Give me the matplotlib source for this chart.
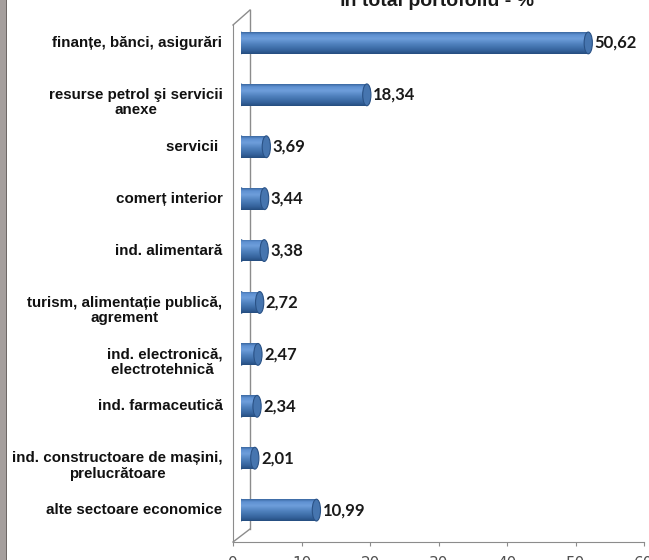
import matplotlib
matplotlib.use("Agg")
import matplotlib.pyplot as plt
import numpy as np
from matplotlib.patches import Ellipse, Rectangle
from matplotlib.lines import Line2D
from matplotlib.colors import LinearSegmentedColormap

# data
categories = ["finanțe, bănci, asigurări",
              "resurse petrol şi servicii\nanexe",
              "servicii ",
              "comerț interior",
              "ind. alimentară",
              "turism, alimentație publică,\nagrement",
              "ind. electronică,\nelectrotehnică ",
              "ind. farmaceutică",
              "ind. constructoare de mașini,\nprelucrătoare",
              "alte sectoare economice"]
values = [50.62, 18.34, 3.69, 3.44, 3.38, 2.72, 2.47, 2.34, 2.01, 10.99]
value_labels = ["50,62", "18,34", "3,69", "3,44", "3,38", "2,72", "2,47", "2,34", "2,01", "10,99"]
xticks = [0, 10, 20, 30, 40, 50, 60]
title = "în total portofoliu - %"

W, H = 649, 560
fig = plt.figure(figsize=(W/100, H/100), dpi=100)

def box(left, top, width, height):
    # pixel box (from top-left) -> figure fraction
    return [left/W, (H-top-height)/H, width/W, height/H]

# grey strip on the left side
fig.add_artist(Rectangle((0, 0), 6/W, 1, transform=fig.transFigure, color="#a59f9d", lw=0))
fig.add_artist(Rectangle((6/W, 0), 1.2/W, 1, transform=fig.transFigure, color="#6e6866", lw=0))

# front frame with ticks
axf = fig.add_axes(box(233, 25, 411, 517))
axf.set_xlim(0, 60)
axf.set_ylim(0, 1)
axf.set_xticks(xticks)
axf.set_xticklabels([str(t) for t in xticks], fontsize=11, color="#505050", family="Liberation Sans Narrow")
axf.set_yticks([])
for s in ["top", "right"]:
    axf.spines[s].set_visible(False)
axf.spines["left"].set_color("#8c8c8c")
axf.spines["bottom"].set_color("#8c8c8c")
axf.tick_params(axis="x", length=3, color="#8c8c8c", pad=7)
axf.patch.set_alpha(0)

# back wall line + depth lines (behind the bars)
gl = dict(transform=fig.transFigure, color="#8c8c8c", lw=1, clip_on=False)
axf.add_line(Line2D([250/W, 250/W], [(H-10)/H, (H-529)/H], **gl))
axf.add_line(Line2D([233/W, 250/W], [(H-25)/H, (H-10)/H], **gl))
axf.add_line(Line2D([233/W, 250/W], [(H-542)/H, (H-529)/H], **gl))

# bars at mid depth
ax = fig.add_axes(box(241, 17.5, 411.6, 517))
ax.set_xlim(0, 60)
ax.set_ylim(9.47, -0.49)
ax.axis("off")

y = np.arange(len(values))
h = 0.42
cap_w = 1.2

# cylinder shading, top to bottom
shade = LinearSegmentedColormap.from_list("cyl", [(0.0, "#3c69a2"), (0.12, "#5f91d2"), (0.3, "#6e9edb"),
                                                  (0.55, "#4f81bd"), (0.85, "#34629b"), (1.0, "#254d7f")])
grad = np.linspace(0, 1, 64).reshape(-1, 1)

bars = ax.barh(y, values, height=h, color="#4f81bd", lw=0, zorder=2)
for yi, v, bar, lab in zip(y, values, bars, value_labels):
    ax.add_patch(Ellipse((0, yi), cap_w, h, facecolor="#4a7cb8", edgecolor="#2f5a90", lw=0.6, zorder=1))
    im = ax.imshow(grad, cmap=shade, aspect="auto", extent=[0, v, yi+h/2, yi-h/2],
                   origin="upper", zorder=2.5, interpolation="bilinear")
    im.set_clip_path(bar)
    ax.add_patch(Ellipse((v, yi), cap_w, h, facecolor="#4675af", edgecolor="#2a5286", lw=0.8, zorder=3))
    ax.text(v + cap_w*0.75, yi, lab, ha="left", va="center", fontsize=12, fontweight="bold",
            family="Lato", color="#1a1a1a")
ax.set_xlim(0, 60)
ax.set_ylim(9.47, -0.49)

# category labels (two-line labels sit a bit lower, as in Excel)
for yi, cat in zip(y, categories):
    nl = cat.count("\n")
    ax.text(-2.7, yi + nl*0.15, cat, ha="right", va="center", multialignment="center", fontsize=10.9,
            fontweight="bold", family="Liberation Sans", color="#111111", linespacing=1.1,
            clip_on=False)

# title (cut by the top edge)
fig.text(437/W, (H-6)/H, title, ha="center", va="baseline", fontsize=14, fontweight="bold",
         family="Liberation Sans", color="#1a1a1a")

fig.savefig("out.png", dpi=100)
